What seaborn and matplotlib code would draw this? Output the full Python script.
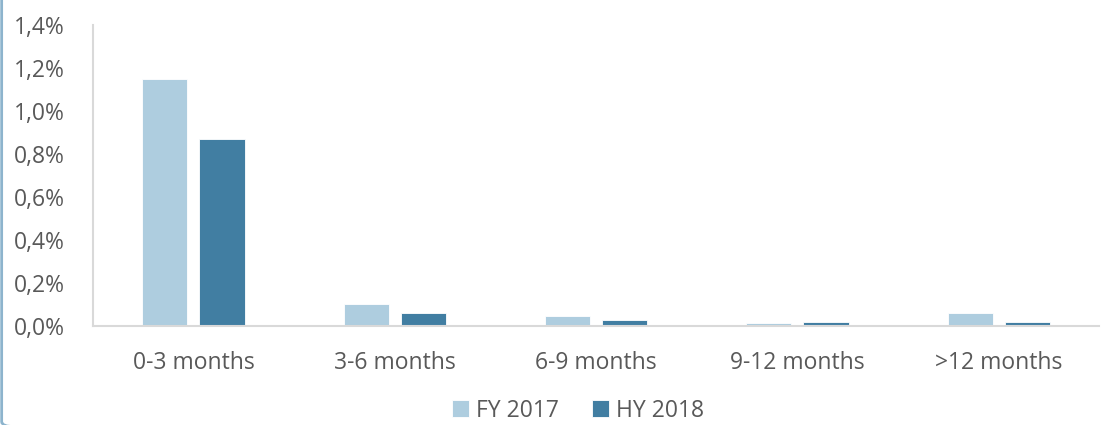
import pandas as pd
import matplotlib.pyplot as plt
import seaborn as sns
from matplotlib.patches import FancyBboxPatch
from matplotlib.ticker import FuncFormatter

categories = ["0-3 months", "3-6 months", "6-9 months", "9-12 months", ">12 months"]
series = ["FY 2017", "HY 2018"]
fy_2017 = [1.15, 0.10, 0.045, 0.012, 0.06]
hy_2018 = [0.87, 0.06, 0.028, 0.018, 0.018]

colors = {"FY 2017": "#AECDDF", "HY 2018": "#417EA2"}
text_color = "#595959"
axis_color = "#D9D9D9"

sns.set_theme(style="white")
plt.rcParams["font.family"] = ["Open Sans", "DejaVu Sans"]

df = pd.DataFrame({
    "category": categories * 2,
    "series": [series[0]] * len(categories) + [series[1]] * len(categories),
    "value": fy_2017 + hy_2018,
})

fig = plt.figure(figsize=(11.05, 4.25), dpi=100)
ax = fig.add_axes([0.084, 0.233, 0.911, 0.708])

sns.barplot(data=df, x="category", y="value", hue="series", order=categories,
            hue_order=series, palette=colors, saturation=1, width=0.568, gap=0.21,
            edgecolor="white", linewidth=0.6, ax=ax)

ax.set_ylim(0, 1.4)
ax.set_xlim(-0.5, len(categories) - 0.5)
ax.set_yticks([0, 0.2, 0.4, 0.6, 0.8, 1.0, 1.2, 1.4])
ax.yaxis.set_major_formatter(FuncFormatter(lambda v, p: f"{v:.1f}%".replace(".", ",")))
ax.set_xlabel("")
ax.set_ylabel("")

for side in ["top", "right"]:
    ax.spines[side].set_visible(False)
for side in ["left", "bottom"]:
    ax.spines[side].set_color(axis_color)
    ax.spines[side].set_linewidth(1.5)

ax.tick_params(axis="y", length=0, labelsize=16.5, labelcolor=text_color, pad=20)
ax.tick_params(axis="x", which="major", length=0, labelsize=16.5, labelcolor=text_color, pad=18)
ax.set_xticks([i - 0.5 for i in range(len(categories) + 1)], minor=True)
ax.tick_params(axis="x", which="minor", length=7, width=1.5, color=axis_color, direction="out")

handles, labels = ax.get_legend_handles_labels()
ax.legend(handles, labels, loc="center", bbox_to_anchor=(0.523, 0.034),
          bbox_transform=fig.transFigure, ncol=2, frameon=False,
          fontsize=16.5, labelcolor=text_color, handlelength=0.75, handleheight=0.75,
          handletextpad=0.3, columnspacing=1.45, borderpad=0.1)

# left edge frame
frame = FancyBboxPatch((0.0015, -0.004), 1.2, 1.2, boxstyle="round,pad=0,rounding_size=0.012",
                       transform=fig.transFigure, fill=False, edgecolor="#8DB4CD",
                       linewidth=2, clip_on=False)
fig.patches.append(frame)

plt.savefig("out.png", dpi=100)
plt.close()
